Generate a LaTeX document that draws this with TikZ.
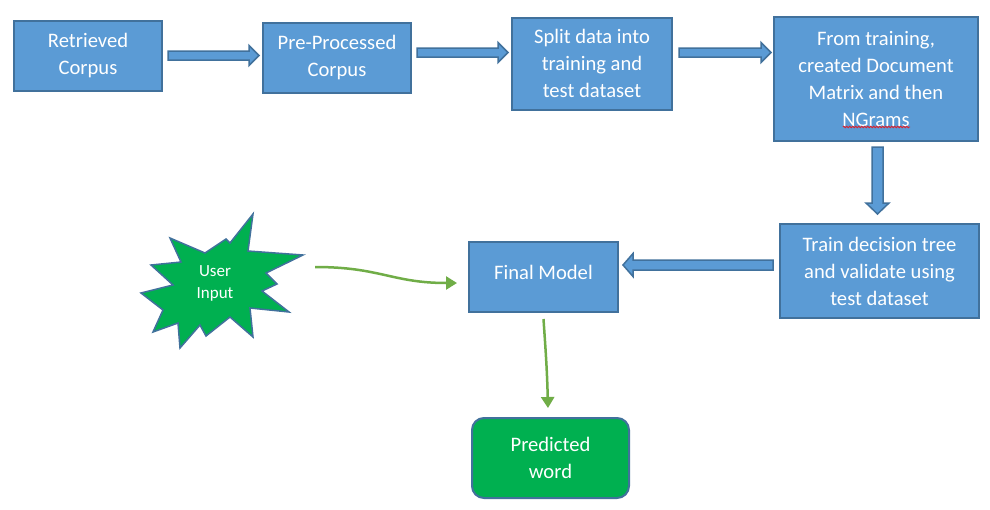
\documentclass[tikz,border=0pt]{standalone}
\usepackage{fontspec}
\setmainfont{Carlito}
\usetikzlibrary{calc,arrows.meta,decorations.pathmorphing}
\definecolor{blu}{HTML}{5B9BD5}
\definecolor{bord}{HTML}{41719C}
\definecolor{grn}{HTML}{00B050}
\definecolor{garrow}{HTML}{70AD47}
\definecolor{squig}{HTML}{E0202A}
\newcommand{\rblock}[4]{%
  \path[barrow] let \p1=(#1), \p2=(#2) in
    (\x1,\y1+#3) -- (\x2-10pt,\y1+#3) -- (\x2-10pt,\y1+#4) -- (\x2,\y1) --
    (\x2-10pt,\y1-#4) -- (\x2-10pt,\y1-#3) -- (\x1,\y1-#3) -- cycle;}
\newcommand{\lblock}[4]{%
  \path[barrow] let \p1=(#1), \p2=(#2) in
    (\x1,\y1+#3) -- (\x2+10pt,\y1+#3) -- (\x2+10pt,\y1+#4) -- (\x2,\y1) --
    (\x2+10pt,\y1-#4) -- (\x2+10pt,\y1-#3) -- (\x1,\y1-#3) -- cycle;}
\newcommand{\dblock}[4]{%
  \path[barrow] let \p1=(#1), \p2=(#2) in
    (\x1-#3,\y1) -- (\x1-#3,\y2+11pt) -- (\x1-#4,\y2+11pt) -- (\x1,\y2) --
    (\x1+#4,\y2+11pt) -- (\x1+#3,\y2+11pt) -- (\x1+#3,\y1) -- cycle;}
\begin{document}
\begin{tikzpicture}[x=1pt,y=-1pt,
  box/.style={draw=bord, fill=blu, line width=2pt, text=white, align=center,
    inner sep=0pt, font=\fontsize{20.6}{27}\selectfont},
  barrow/.style={draw=bord, fill=blu, line width=1.5pt, line join=miter},
  garr/.style={draw=garrow, line width=2.5pt, -{Triangle[length=11pt,width=13pt]}}]
\useasboundingbox (0,0) rectangle (990,509);
\fill[white] (0,0) rectangle (990,509);

\node[box, minimum width=148pt, minimum height=70pt] (ret) at (88,56) {Retrieved\\Corpus};
\node[box, minimum width=148pt, minimum height=70pt] (pre) at (337,58) {Pre-Processed\\Corpus};
\node[box, minimum width=160pt, minimum height=92pt] (split) at (592,63.5) {Split data into\\training and\\test dataset};
\node[box, minimum width=204pt, minimum height=124pt] (from) at (876,79) {From training,\\created Document\\Matrix and then\\NGrams};
\node[box, minimum width=199pt, minimum height=94pt] (train) at (879.5,271) {Train decision tree\\and validate using\\test dataset};
\node[box, minimum width=149pt, minimum height=70pt] (final) at (543.5,277) {\raisebox{10pt}{Final Model}};
\node[box, fill=grn, rounded corners=12pt, minimum width=157pt, minimum height=80pt] (pred) at (550.5,458) {Predicted\\word};

% squiggly underline
\draw[squig, line width=0.8pt, decorate, decoration={zigzag, segment length=3pt, amplitude=0.8pt}]
  ($(from.center)+(-33,48)$) -- ++(67,0);

% block arrows
\rblock{$(ret.east)+(5,-0.5)$}{$(pre.west)+(-3,0)$}{4.5pt}{10pt}
\rblock{$(pre.east)+(5,-5.5)$}{$(split.west)+(-3,0)$}{4.5pt}{10pt}
\rblock{$(split.east)+(6,-11)$}{$(from.west)+(-2,0)$}{4.5pt}{10pt}
\dblock{$(from.south)+(1.5,5)$}{$(train.north)+(0,-9)$}{5.5pt}{11.5pt}
\lblock{$(train.west)+(-6,-6)$}{$(final.east)+(4,0)$}{5pt}{11.5pt}

% starburst
\node[minimum width=162pt, minimum height=134pt, inner sep=0pt] (burst) at (222,281) {};
\filldraw[fill=grn, draw=bord, line width=1.5pt, line join=miter]
  (253,214) -- (248,251) -- (303,255) -- (266,273) -- (277,284) -- (262,291) --
  (289,312) -- (250,308) -- (253,337) -- (230,317) -- (206,336) -- (200,325) --
  (180,348) -- (178,323) -- (153,332) -- (163,310) -- (141,293) -- (173,285) --
  (151,265) -- (181,262) -- (170,238) -- (205,253) -- (226,239) -- (230,243) -- cycle;
\node[text=white, align=center, inner sep=0pt, font=\fontsize{17}{22}\selectfont] (user) at (215,283) {User\\Input};

% green connectors
\draw[garr] ($(burst.east)+(12,-14)$) .. controls +(65,0) and +(-65,0) .. ($(final.west)+(-11,6)$);
\draw[garr] ($(final.south)+(0,6)$) .. controls +(2,30) and +(-1,-40) .. ($(pred.north)+(-2.5,-9)$);
\end{tikzpicture}
\end{document}
